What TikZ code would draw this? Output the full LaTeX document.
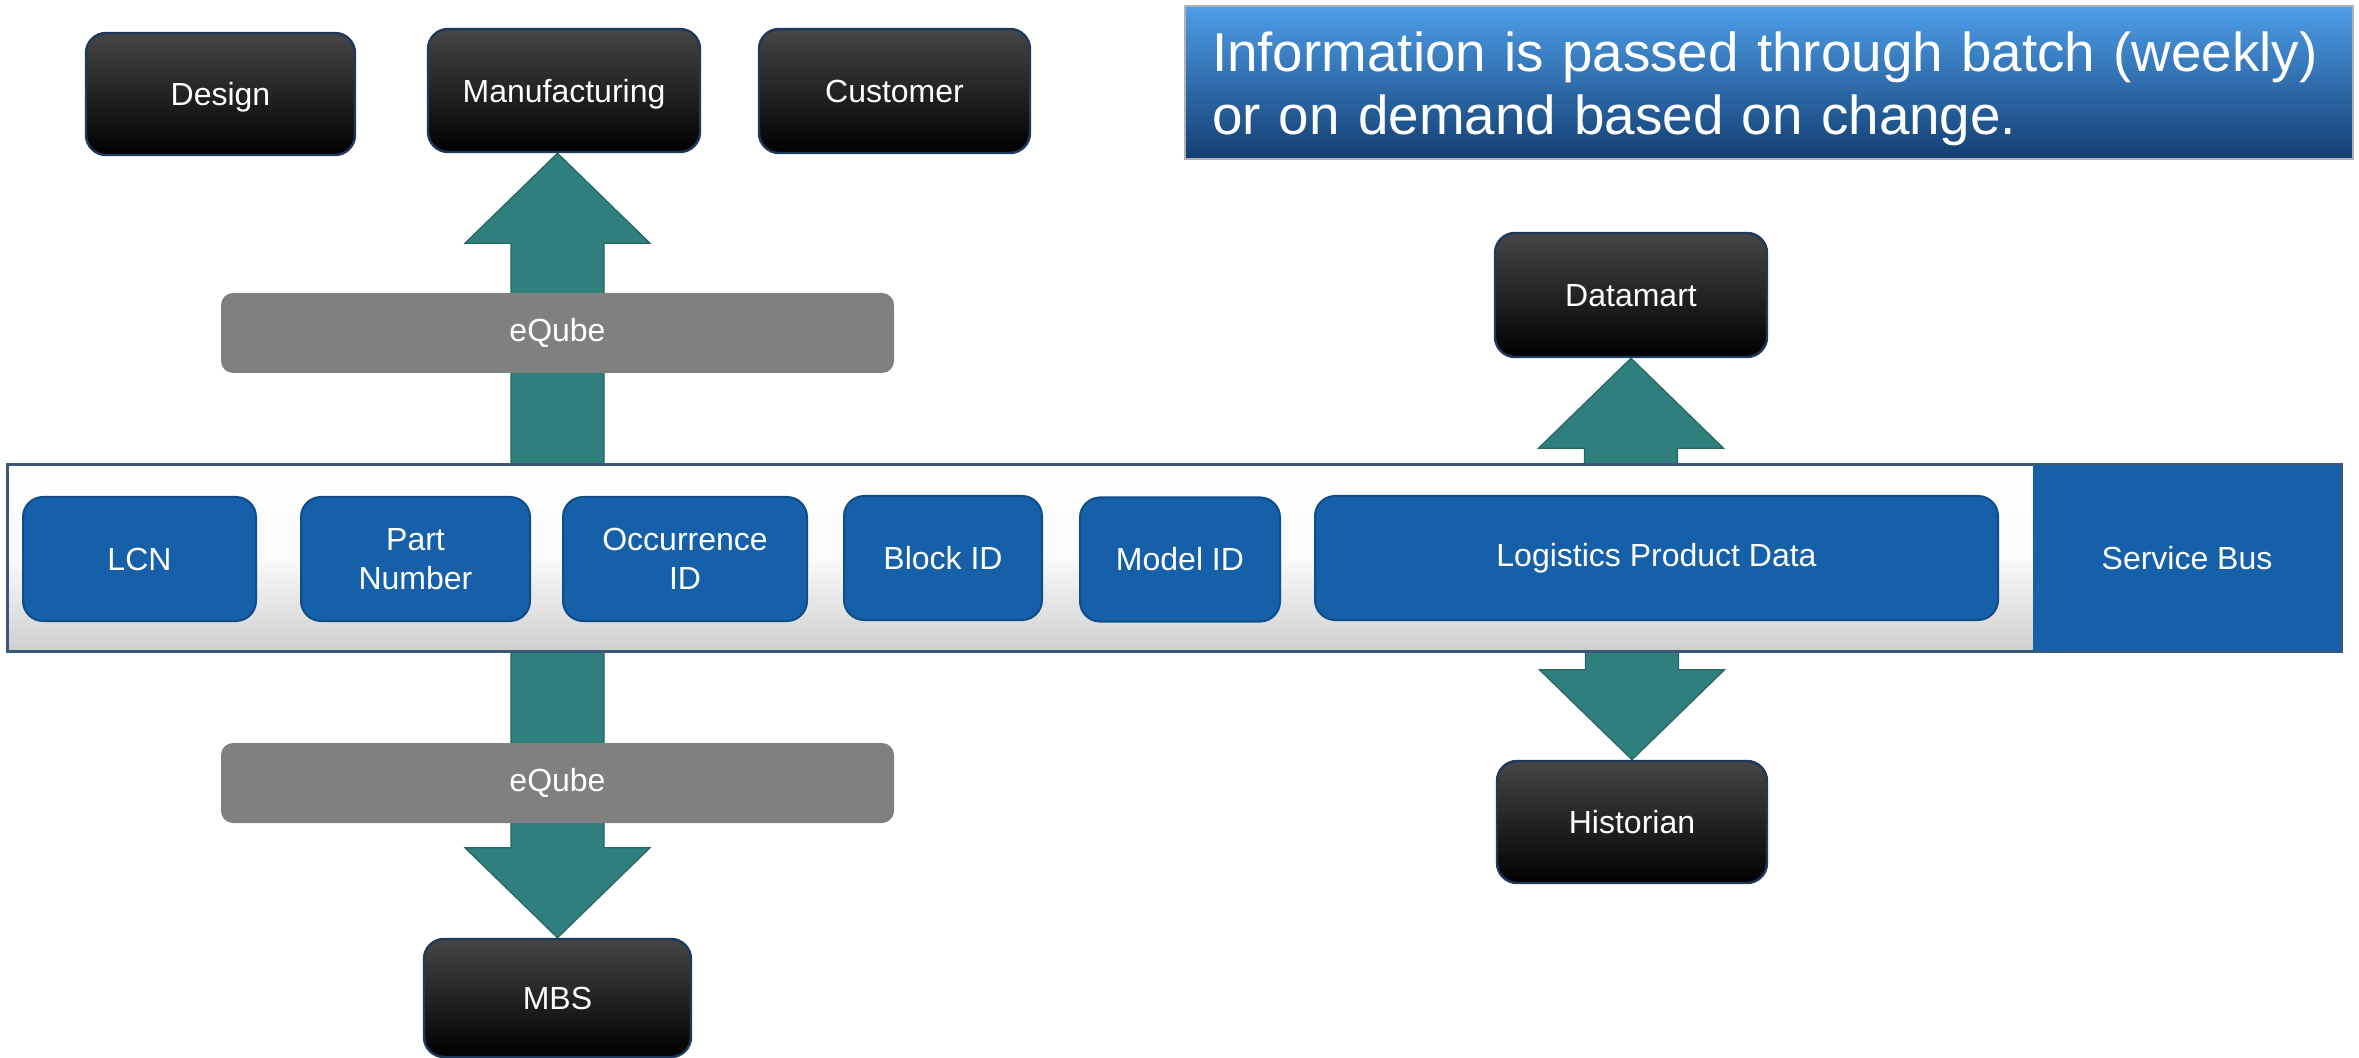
\documentclass[tikz,border=0pt]{standalone}
\usepackage{fontspec}
\setmainfont{Liberation Sans}
\usetikzlibrary{calc}
\pgfdeclarelayer{bg}
\pgfsetlayers{bg,main}
\definecolor{boxblue}{HTML}{1560A8}
\definecolor{boxblueedge}{HTML}{104C88}
\definecolor{darkedge}{HTML}{1D3A5C}
\definecolor{darktop}{HTML}{464646}
\definecolor{arrowteal}{HTML}{2F7F7C}
\definecolor{busedge}{HTML}{3C5878}
\definecolor{busgray}{HTML}{CFCFCF}
\definecolor{infotop}{HTML}{4E9EE8}
\definecolor{infobot}{HTML}{123E72}
\definecolor{eqgray}{HTML}{808080}
\tikzset{
  lbl/.style={font=\fontsize{16}{19.5}\selectfont, text=white, align=center, inner sep=0pt},
  darkbox/.style={lbl, rounded corners=10pt, draw=darkedge, line width=1.2pt,
    top color=darktop, bottom color=black, text depth=0pt},
  bluebox/.style={lbl, rounded corners=10pt, fill=boxblue, draw=boxblueedge, line width=1pt,
    minimum height=62pt},
  graybar/.style={lbl, rounded corners=6pt, fill=eqgray, minimum width=336.5pt, minimum height=40pt},
  busbar/.style={draw=busedge, line width=1.2pt, top color=white, bottom color=busgray,
    middle color=white!90!busgray, minimum width=1166.5pt, minimum height=93pt, inner sep=0pt},
  sbusbox/.style={lbl, fill=boxblue, minimum width=154pt, minimum height=93pt},
  infobox/.style={top color=infotop, bottom color=infobot, draw=gray!60, line width=0.6pt,
    minimum width=584pt, minimum height=76.5pt, inner sep=0pt},
  infotext/.style={text=white, font=\fontsize{27.4}{31.5}\selectfont, text width=557pt,
    align=left, inner sep=0pt},
  arr/.style={fill=arrowteal, draw=arrowteal!80!black, line width=0.6pt}
}
\newcommand\UpBlk[2]{%
  \filldraw[arr] let \p1=(#1), \p2=(#2) in
    (\x1,\y1) -- (\x1+46.25pt,\y1-45pt) -- (\x1+23.25pt,\y1-45pt) -- (\x1+23.25pt,\y2)
    -- (\x1-23.25pt,\y2) -- (\x1-23.25pt,\y1-45pt) -- (\x1-46.25pt,\y1-45pt) -- cycle;}
\newcommand\DownBlk[2]{%
  \filldraw[arr] let \p1=(#1), \p2=(#2) in
    (\x1,\y1) -- (\x1+46.25pt,\y1+45pt) -- (\x1+23.25pt,\y1+45pt) -- (\x1+23.25pt,\y2)
    -- (\x1-23.25pt,\y2) -- (\x1-23.25pt,\y1+45pt) -- (\x1-46.25pt,\y1+45pt) -- cycle;}
\begin{document}
\begin{tikzpicture}[x=0.5pt,y=-0.5pt]
\useasboundingbox (0,0) rectangle (2359,1058);
% top systems
\node[darkbox, minimum width=134.5pt, minimum height=61pt] (design) at (220.5,94) {Design};
\node[darkbox, minimum width=136pt, minimum height=61.5pt] (mfg) at (564,90.5) {Manufacturing};
\node[darkbox, minimum width=135.5pt, minimum height=62pt] (cust) at (894.5,91) {Customer};
\node[darkbox, minimum width=136pt, minimum height=62pt] (dm) at (1631,295) {Datamart};
\node[darkbox, minimum width=135pt, minimum height=61pt] (hist) at (1632,822) {Historian};
\node[darkbox, minimum width=133.5pt, minimum height=59pt] (mbs) at (557.5,998) {MBS};
% info banner
\node[infobox] (info) at (1769,82.5) {};
\node[infotext, yshift=-3pt] (infotxt) at (info.center) {Information is passed through batch (weekly)\\or on demand based on change.};
% bus
\node[busbar] (bus) at (1174.5,558) {};
\node[sbusbox] (sbus) at (2187,558) {Service Bus};
\draw[busedge, line width=1.2pt] (bus.north west) rectangle (bus.south east);
\node[bluebox, minimum width=116.5pt] (lcn) at (139.5,559) {LCN};
\node[bluebox, minimum width=114.5pt] (pn) at (415.5,559) {Part\\Number};
\node[bluebox, minimum width=122pt] (occ) at (685,559) {Occurrence\\ID};
\node[bluebox, minimum width=99pt] (blk) at (943,558) {Block ID};
\node[bluebox, minimum width=100pt] (mdl) at (1180,559.5) {Model ID};
\node[bluebox, minimum width=341.5pt] (lpd) at (1656.5,558) {Logistics Product Data};
% eQube bars
\node[graybar] (eqt) at (557.5,333) {eQube};
\node[graybar] (eqb) at (557.5,783) {eQube};
% block arrows
\begin{pgfonlayer}{bg}
\UpBlk{mfg.south -| eqt.center}{bus.north}
\DownBlk{mbs.north -| eqb.center}{bus.south}
\UpBlk{dm.south}{bus.north}
\DownBlk{hist.north}{bus.south}
\end{pgfonlayer}
\end{tikzpicture}
\end{document}
